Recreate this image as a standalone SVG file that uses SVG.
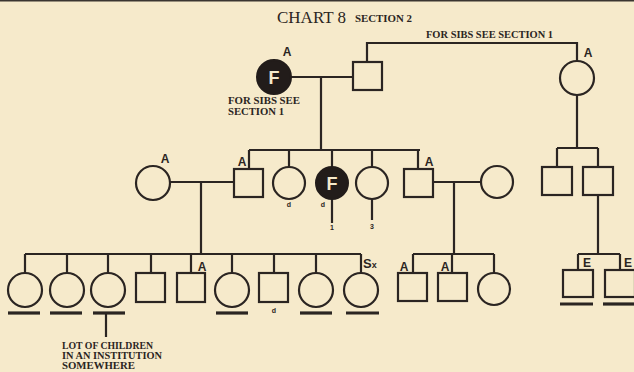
<svg xmlns="http://www.w3.org/2000/svg" width="634" height="372" viewBox="0 0 634 372">
<style>
.ln{fill:none;stroke:#2b2522;stroke-width:2.2}
.sh{fill:none;stroke:#2b2522;stroke-width:2.2}
.fl{fill:#221c1a;stroke:#221c1a;stroke-width:2}
.ul{fill:none;stroke:#2b2522;stroke-width:3.2}
.lbl{font-family:"Liberation Sans",Arial,sans-serif;font-weight:bold;fill:#2b2522}
.a{font-size:12px;text-anchor:middle}
.f{font-family:"Liberation Sans",Arial,sans-serif;font-weight:bold;fill:#f6eacb;font-size:18px;text-anchor:middle}
.sm{font-family:"Liberation Serif","Times New Roman",serif;font-weight:bold;fill:#2b2522;font-size:10px}
.tiny{font-family:"Liberation Sans",Arial,sans-serif;font-weight:bold;fill:#2b2522;font-size:7px;text-anchor:middle}
</style>
<rect width="634" height="372" fill="#f6eacb"/>
<rect x="0" y="0" width="634" height="1.5" fill="#3a3530"/>
<g id="title">
<text x="277" y="23" font-family="'Liberation Serif','Times New Roman',serif" font-size="17" fill="#2b2522">CHART 8</text>
<text class="sm" x="355" y="22" textLength="57" lengthAdjust="spacingAndGlyphs">SECTION 2</text>
</g>
<g id="connectors">
<path class="ln" d="M367,62 V43 H577 V61"/>
<path class="ln" d="M291,77 H353 M321,77 V150 M249,150 H420 M249,150 V169 M289,150 V167 M332,150 V167 M372,150 V167 M418,150 V169"/>
<path class="ln" d="M332,199 V223 M372,199 V220"/>
<path class="ln" d="M170,182 H234 M201,182 V254 M25,254 H361 M25,254 V273 M67,254 V273 M108,254 V273 M151,254 V273 M191,254 V273 M232,254 V273 M274,254 V273 M316,254 V273 M361,254 V273"/>
<path class="ln" d="M433,182 H481 M454,182 V254 M413,254 H494 M413,254 V273 M452,254 V273 M494,254 V273"/>
<path class="ln" d="M577,95 V148 M557,148 H598 M557,148 V167 M598,148 V167 M598,195 V254 M578,254 H620 M578,254 V270 M620,254 V270"/>
<path class="ln" d="M106,313 V337"/>
</g>
<g id="n-grandmother"><circle class="fl" cx="274" cy="77" r="17"/><text class="f" x="274" y="84">F</text><text class="lbl a" x="287" y="56">A</text>
<text class="sm" x="228" y="104" textLength="72" lengthAdjust="spacingAndGlyphs">FOR SIBS SEE</text>
<text class="sm" x="228" y="115" textLength="56" lengthAdjust="spacingAndGlyphs">SECTION 1</text></g>
<g id="n-grandfather"><rect class="sh" x="353" y="62" width="29" height="28"/>
<text class="sm" x="426" y="38" textLength="127" lengthAdjust="spacingAndGlyphs">FOR SIBS SEE  SECTION 1</text></g>
<g id="n-topright"><circle class="sh" cx="577" cy="78" r="17"/><text class="lbl a" x="588" y="57">A</text></g>
<g id="n-g2-wife"><circle class="sh" cx="153" cy="183" r="17"/><text class="lbl a" x="165" y="163">A</text></g>
<g id="n-g2-sq1"><rect class="sh" x="234" y="169" width="29" height="28"/><text class="lbl a" x="242" y="166">A</text></g>
<g id="n-g2-c1"><circle class="sh" cx="289" cy="183" r="16"/><text class="tiny" x="289" y="207">d</text></g>
<g id="n-g2-f"><circle class="fl" cx="332" cy="183" r="16"/><text class="f" x="332" y="190">F</text><text class="tiny" x="323" y="207">d</text><text class="tiny" x="332" y="230">1</text></g>
<g id="n-g2-c3"><circle class="sh" cx="372" cy="183" r="16"/><text class="tiny" x="372" y="229">3</text></g>
<g id="n-g2-sq2"><rect class="sh" x="404" y="169" width="29" height="28"/><text class="lbl a" x="429" y="166">A</text></g>
<g id="n-g2-wife2"><circle class="sh" cx="497" cy="182" r="16"/></g>
<g id="n-r-sq1"><rect class="sh" x="542" y="167" width="30" height="28"/></g>
<g id="n-r-sq2"><rect class="sh" x="583" y="167" width="30" height="28"/></g>
<g id="n-b1"><circle class="sh" cx="25" cy="290" r="17"/><path class="ul" d="M8,313 H40"/></g>
<g id="n-b2"><circle class="sh" cx="67" cy="290" r="17"/><path class="ul" d="M50,313 H82"/></g>
<g id="n-b3"><circle class="sh" cx="108" cy="290" r="17"/><path class="ul" d="M93,313 H125"/>
<text class="sm" x="62" y="349" textLength="91" lengthAdjust="spacingAndGlyphs">LOT OF CHILDREN</text>
<text class="sm" x="62" y="359" textLength="100" lengthAdjust="spacingAndGlyphs">IN AN INSTITUTION</text>
<text class="sm" x="62" y="369" textLength="73" lengthAdjust="spacingAndGlyphs">SOMEWHERE</text></g>
<g id="n-b4"><rect class="sh" x="136" y="273" width="29" height="29"/></g>
<g id="n-b5"><rect class="sh" x="177" y="273" width="28" height="29"/><text class="lbl a" x="202" y="271">A</text></g>
<g id="n-b6"><circle class="sh" cx="232" cy="290" r="17"/><path class="ul" d="M216,313 H248"/></g>
<g id="n-b7"><rect class="sh" x="259" y="273" width="29" height="29"/><text class="tiny" x="274" y="313">d</text></g>
<g id="n-b8"><circle class="sh" cx="316" cy="290" r="17"/><path class="ul" d="M300,313 H332"/></g>
<g id="n-b9"><circle class="sh" cx="361" cy="290" r="17"/><path class="ul" d="M346,313 H379"/><text class="lbl" x="363" y="268" font-size="13">S<tspan font-size="9">x</tspan></text></g>
<g id="n-c1"><rect class="sh" x="398" y="273" width="29" height="28"/><text class="lbl a" x="404" y="271">A</text></g>
<g id="n-c2"><rect class="sh" x="438" y="273" width="29" height="28"/><text class="lbl a" x="445" y="271">A</text></g>
<g id="n-c3"><circle class="sh" cx="494" cy="289" r="16"/></g>
<g id="n-e1"><rect class="sh" x="563" y="270" width="30" height="27"/><text class="lbl a" x="587" y="267">E</text><path class="ul" d="M560,304 H593"/></g>
<g id="n-e2"><rect class="sh" x="605" y="270" width="30" height="27"/><text class="lbl a" x="628" y="267">E</text><path class="ul" d="M603,304 H634"/></g>
</svg>
